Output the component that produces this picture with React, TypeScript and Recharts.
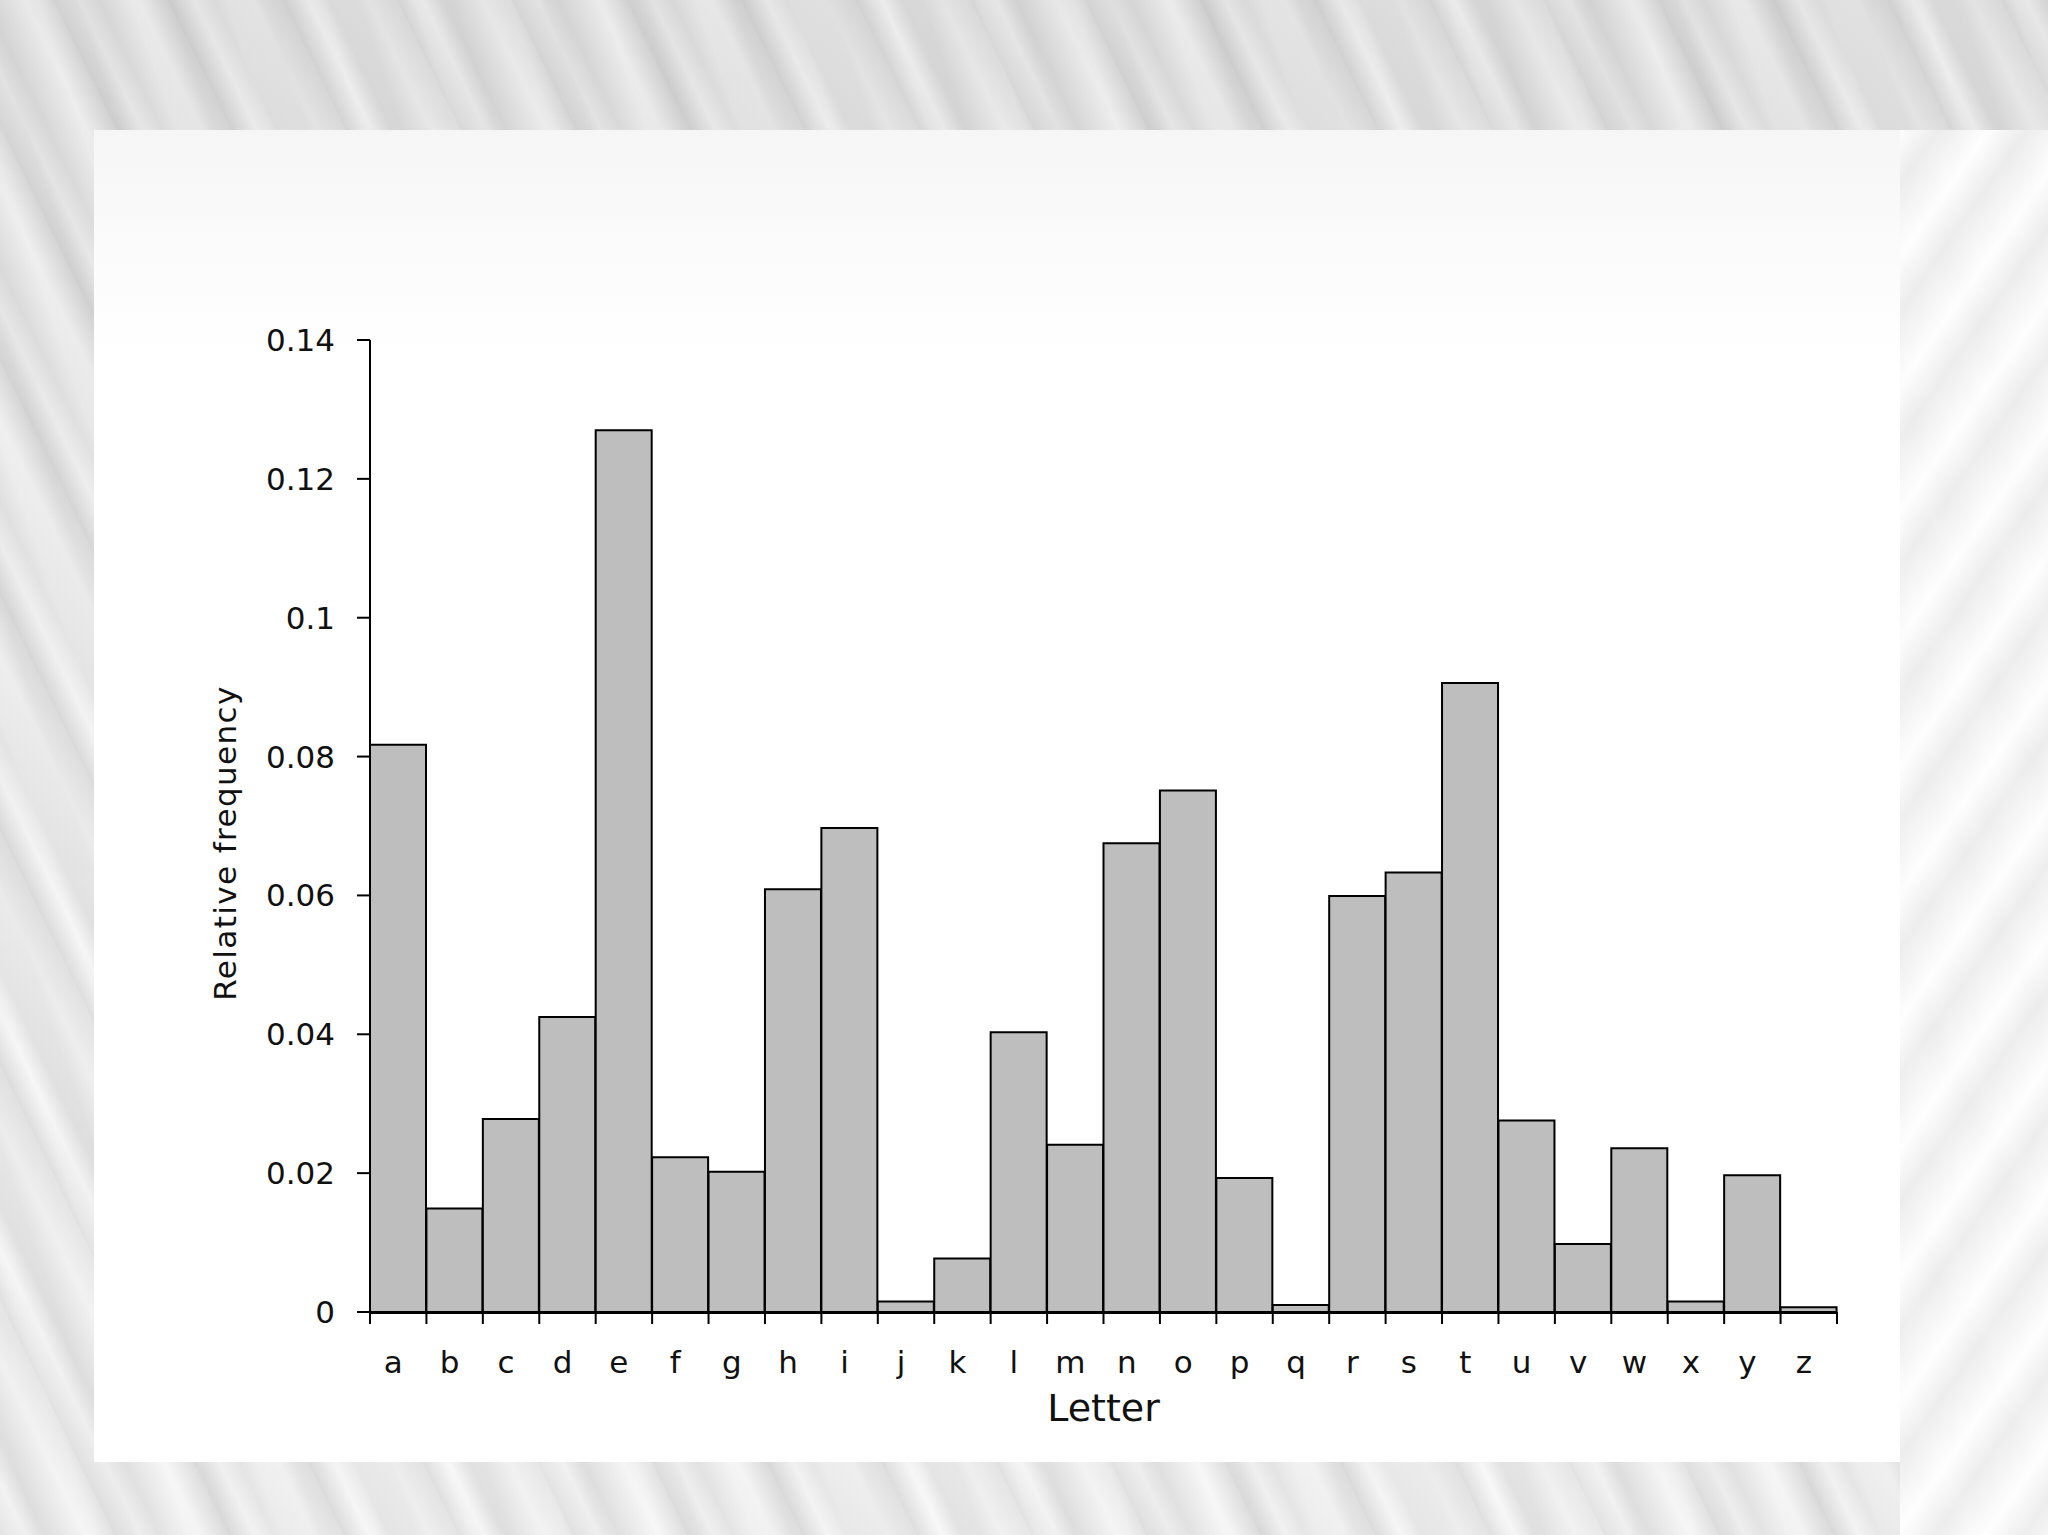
import { Bar, BarChart, XAxis, YAxis } from "recharts";

// relative frequency of letters
const letters = ["a","b","c","d","e","f","g","h","i","j","k","l","m","n","o","p","q","r","s","t","u","v","w","x","y","z"];
const frequencies = [
  0.0817, 0.0149, 0.0278, 0.0425, 0.127, 0.0223, 0.0202, 0.0609, 0.0697,
  0.0015, 0.0077, 0.0403, 0.0241, 0.0675, 0.0751, 0.0193, 0.001, 0.0599,
  0.0633, 0.0906, 0.0276, 0.0098, 0.0236, 0.0015, 0.0197, 0.0007,
];
const yTicks = [0, 0.02, 0.04, 0.06, 0.08, 0.1, 0.12, 0.14];
// boundaries between the bars, where the x ticks sit
const edgeTicks = [0,1,2,3,4,5,6,7,8,9,10,11,12,13,14,15,16,17,18,19,20,21,22,23,24,25,26];

// "slot" is the bar's middle on the 0..26 boundary axis
const data = letters.map((letter, i) => ({ letter, slot: i + 0.5, freq: frequencies[i] }));

const FONT = "'DejaVu Sans', 'Liberation Sans', sans-serif";
const ink = { stroke: "#000", strokeWidth: 2 };

const bgStyle: React.CSSProperties = {
  position: "absolute",
  left: 0,
  top: 0,
  width: 2048,
  height: 1535,
  overflow: "hidden",
  background:
    "repeating-linear-gradient(64deg, rgba(170,170,170,0.25) 0px, rgba(255,255,255,0.25) 23px, rgba(200,200,200,0.3) 41px, rgba(250,250,250,0.3) 77px, rgba(180,180,180,0.22) 103px), repeating-linear-gradient(71deg, rgba(255,255,255,0.35) 0px, rgba(195,195,195,0.25) 37px, rgba(255,255,255,0.3) 89px), linear-gradient(180deg, #dadada 0%, #ebebeb 40%, #f2f2f2 100%)",
};

const panelStyle: React.CSSProperties = {
  position: "absolute",
  left: 94,
  top: 130,
  width: 1806,
  height: 1332,
  background: "linear-gradient(180deg, #f6f6f6 0px, #fbfbfb 120px, #ffffff 230px)",
};

const rightStyle: React.CSSProperties = {
  position: "absolute",
  left: 1900,
  top: 130,
  width: 148,
  height: 1405,
  background:
    "repeating-linear-gradient(125deg, rgba(255,255,255,0.95) 0px, rgba(238,238,238,0.9) 31px, rgba(255,255,255,0.95) 73px)",
};

export default function App() {
  return (
    <div style={bgStyle}>
      <div style={rightStyle} />
      <div style={panelStyle} />
      <div style={{ position: "absolute", left: 0, top: 0 }}>
        <BarChart
          width={2048}
          height={1535}
          data={data}
          margin={{ top: 340, right: 211, bottom: 221, left: 200 }}
          barCategoryGap={0}
        >
          <XAxis
            xAxisId="edges"
            dataKey="slot"
            type="number"
            domain={[0, 26]}
            ticks={edgeTicks}
            allowDataOverflow
            height={1}
            tick={{ fill: "none", fontSize: 1 }}
            tickFormatter={() => ""}
            axisLine={false}
            tickSize={12}
            tickLine={ink}
          />
          <XAxis
            xAxisId="letters"
            dataKey="letter"
            height={1}
            interval={0}
            tickLine={false}
            tickSize={12}
            tickMargin={26}
            axisLine={ink}
            tick={{ fill: "#111", fontSize: 31, fontFamily: FONT, dx: -5 }}
            label={{
              value: "Letter",
              position: "bottom",
              offset: 80,
              fill: "#111",
              fontSize: 38,
              fontFamily: FONT,
            }}
          />
          <YAxis
            domain={[0, 0.14]}
            ticks={yTicks}
            width={170}
            tickSize={13}
            tickMargin={22}
            axisLine={ink}
            tickLine={ink}
            tick={{ fill: "#111", fontSize: 31, fontFamily: FONT }}
            label={{
              value: "Relative frequency",
              angle: -90,
              position: "insideLeft",
              offset: 25,
              dy: 17,
              fill: "#111",
              fontSize: 31,
              fontFamily: FONT,
              style: { textAnchor: "middle", letterSpacing: 1.4 },
            }}
          />
          <Bar
            xAxisId="letters"
            dataKey="freq"
            fill="#bebebe"
            stroke="#000"
            strokeWidth={2}
            isAnimationActive={false}
          />
        </BarChart>
      </div>
    </div>
  );
}
